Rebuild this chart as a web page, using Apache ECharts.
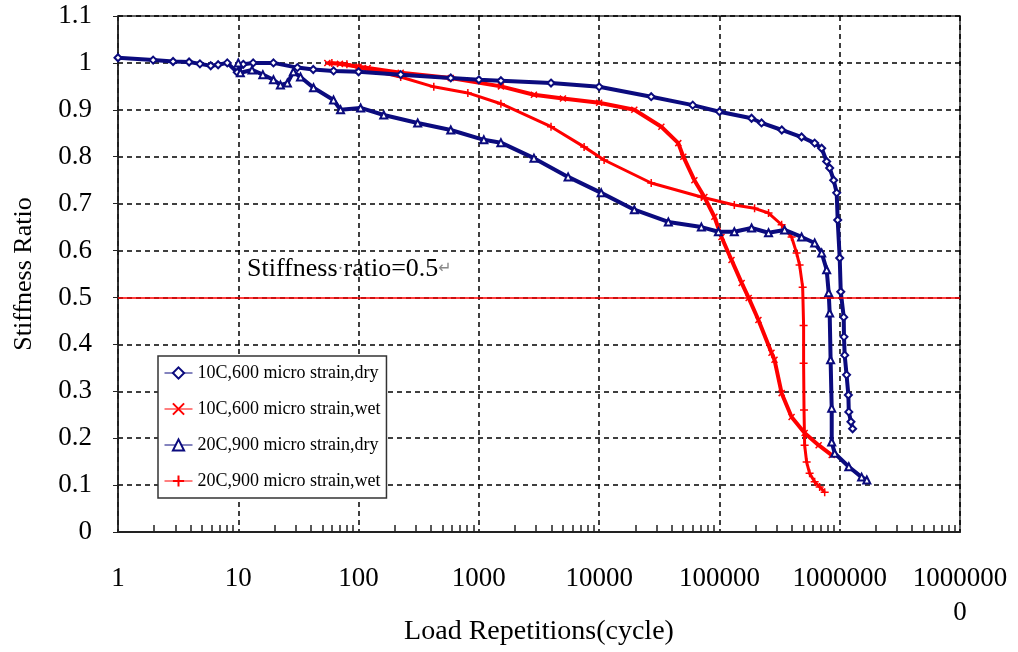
<!DOCTYPE html>
<html>
<head>
<meta charset="utf-8">
<script src="https://cdn.jsdelivr.net/npm/echarts@6/dist/echarts.min.js"></script>
<style>
    html, body { margin: 0; padding: 0; background: #fff; }
    #chart { width: 1018px; height: 652px; }
</style>
</head>
<body>
<div id="chart"></div>
<script>
    // series names as in the legend
    const seriesNames = [
        '10C,600 micro strain,dry',
        '10C,600 micro strain,wet',
        '20C,900 micro strain,dry',
        '20C,900 micro strain,wet'
    ];

    // [load repetitions, stiffness ratio]
    const s10Dry = [
        [1, 1.011], [1.96, 1.006], [2.87, 1.003], [3.9, 1.002], [4.8, 0.998], [5.9, 0.994], [6.8, 0.996],
        [8.1, 1.0], [9.8, 0.98], [11, 0.997], [13.3, 1.0], [19.6, 1.0], [31, 0.99], [42, 0.986], [62, 0.983],
        [100, 0.981], [224, 0.975], [584, 0.968], [1000, 0.964], [1525, 0.962], [3980, 0.957], [10000, 0.949],
        [27100, 0.928], [60000, 0.91], [100000, 0.896], [185000, 0.882], [224000, 0.872], [330000, 0.857],
        [482000, 0.842], [619000, 0.829], [708000, 0.818], [779000, 0.79], [825000, 0.776], [891000, 0.75],
        [944000, 0.723], [962000, 0.665], [1000000, 0.584], [1020000, 0.512], [1080000, 0.458],
        [1085000, 0.416], [1100000, 0.377], [1140000, 0.335], [1180000, 0.292], [1190000, 0.256],
        [1240000, 0.235], [1280000, 0.22]
    ];
    const s10Wet = [
        [55, 1.0], [70, 0.998], [100, 0.992], [119, 0.989], [224, 0.979], [584, 0.968], [1525, 0.95],
        [2870, 0.932], [5000, 0.924], [10000, 0.915], [19600, 0.9], [32900, 0.864], [45500, 0.829],
        [50100, 0.8], [61900, 0.75], [75000, 0.714], [90800, 0.672], [104000, 0.629], [126000, 0.58],
        [153000, 0.531], [175000, 0.499], [211000, 0.452], [271000, 0.382], [287000, 0.367], [329000, 0.296],
        [398000, 0.245], [511000, 0.211], [668000, 0.185], [858000, 0.164]
    ];
    const s20Dry = [
        [10, 1.0], [10.4, 0.979], [13, 0.985], [16, 0.975], [19.6, 0.964], [22.4, 0.953], [25.6, 0.957],
        [28.7, 0.981], [32.9, 0.97], [42.2, 0.947], [61.9, 0.921], [70.8, 0.9], [104, 0.904], [162, 0.889],
        [310, 0.872], [584, 0.857], [1100, 0.836], [1525, 0.83], [2870, 0.797], [5520, 0.757], [10400, 0.723],
        [19600, 0.687], [37600, 0.661], [70800, 0.65], [98100, 0.64], [133000, 0.64], [185000, 0.648],
        [256000, 0.638], [348000, 0.644], [482000, 0.629], [619000, 0.616], [708000, 0.595], [779000, 0.559],
        [810000, 0.51], [825000, 0.467], [840000, 0.367], [858000, 0.264], [858000, 0.192], [908000, 0.168],
        [1190000, 0.139], [1520000, 0.117], [1680000, 0.111]
    ];
    const s20Wet = [
        [60, 1.0], [80, 0.997], [100, 0.99], [224, 0.97], [422, 0.949], [810, 0.936], [1525, 0.913],
        [3980, 0.864], [7500, 0.821], [11000, 0.793], [27100, 0.744], [70800, 0.714], [133000, 0.697],
        [196000, 0.69], [256000, 0.68], [329000, 0.655], [398000, 0.629], [438000, 0.595], [464000, 0.569],
        [492000, 0.522], [501000, 0.44], [501000, 0.36], [505000, 0.26], [511000, 0.185], [531000, 0.149],
        [562000, 0.125], [619000, 0.107], [681000, 0.096], [750000, 0.085]
    ];

    const threshold = 0.5;
    const xTickLabels = ['1', '10', '100', '1000', '10000', '100000', '1000000', '1000000\n0'];
    const yTickLabels = ['0', '0.1', '0.2', '0.3', '0.4', '0.5', '0.6', '0.7', '0.8', '0.9', '1', '1.1'];

    // minor ticks 2..9 in each decade
    const minorTicks = [];
    for (let d = 0; d < 7; d++) {
        for (let k = 2; k <= 9; k++) {
            minorTicks.push(k * Math.pow(10, d));
        }
    }

    const serif = "'Liberation Serif', 'Times New Roman', serif";
    const navy = '#0b0b7e';
    const red = '#ff0000';
    const dash = { color: '#000', type: [5, 4], width: 1.5 };

    const chart = echarts.init(document.getElementById('chart'));
    chart.setOption({
        animation: false,
        grid: {
            left: 118,
            right: 58,
            top: 16,
            bottom: 120,
            outerBoundsMode: 'none',
            show: true,
            borderColor: '#333',
            borderWidth: 1.5
        },
        legend: {
            orient: 'vertical',
            left: 158,
            top: 356,
            padding: [8, 6, 8, 6],
            itemWidth: 28,
            itemHeight: 14,
            itemGap: 18,
            borderColor: '#333',
            borderWidth: 1.5,
            backgroundColor: '#fff',
            textStyle: { fontFamily: serif, fontSize: 18, color: '#000' },
            lineStyle: { width: 1 },
            data: seriesNames
        },
        xAxis: [{
            type: 'log',
            logBase: 10,
            min: 1,
            max: 1e7,
            position: 'bottom',
            axisLine: { lineStyle: { color: '#222', width: 2 } },
            axisTick: {
                show: true,
                inside: true,
                length: 7,
                customValues: minorTicks,
                lineStyle: { color: '#222', width: 1.5 }
            },
            axisLabel: {
                fontFamily: serif,
                fontSize: 27,
                color: '#000',
                margin: 30,
                lineHeight: 34,
                formatter: (v) => xTickLabels[Math.round(Math.log10(v))]
            },
            splitLine: { show: false },
            name: 'Load Repetitions(cycle)',
            nameLocation: 'middle',
            nameGap: 86,
            nameMoveOverlap: false,
            nameTextStyle: { fontFamily: serif, fontSize: 28, color: '#000' }
        }, {
            // decade grid lines only
            type: 'log',
            logBase: 10,
            min: 1,
            max: 1e7,
            position: 'top',
            axisLine: { show: false },
            axisTick: { show: false },
            axisLabel: { show: false },
            splitLine: { show: true, lineStyle: dash }
        }],
        yAxis: {
            type: 'value',
            min: 0,
            max: 1.1,
            interval: 0.1,
            axisLine: { show: true, lineStyle: { color: '#222', width: 1.5 } },
            axisTick: { show: true, length: 5, lineStyle: { color: '#222' } },
            axisLabel: {
                fontFamily: serif,
                fontSize: 27,
                color: '#000',
                margin: 26,
                formatter: (v) => yTickLabels[Math.round(v * 10)]
            },
            splitLine: { lineStyle: dash },
            name: 'Stiffness Ratio',
            nameLocation: 'middle',
            nameGap: 81,
            nameTextStyle: { fontFamily: serif, fontSize: 26, color: '#000' }
        },
        graphic: [{
            type: 'text',
            left: 247,
            top: 256,
            style: {
                text: 'Stiffness{d|·}ratio=0.5{r|↵}',
                font: "26px 'Liberation Serif', serif",
                fill: '#000',
                rich: {
                    d: { fill: '#777', font: "18px 'Liberation Serif', serif" },
                    r: { fill: '#888', font: "16px 'DejaVu Sans', sans-serif" }
                }
            }
        }],
        series: [{
            name: seriesNames[0],
            type: 'line',
            data: s10Dry,
            symbol: 'emptyDiamond',
            symbolSize: 7,
            showSymbol: true,
            color: navy,
            lineStyle: { width: 4, color: navy },
            itemStyle: { color: navy, borderWidth: 1.2 },
            z: 3
        }, {
            name: seriesNames[1],
            type: 'line',
            data: s10Wet,
            symbol: 'path://M0,0L10,10M10,0L0,10',
            symbolSize: 6,
            showSymbol: true,
            color: red,
            lineStyle: { width: 4, color: red },
            itemStyle: { color: red, borderColor: red, borderWidth: 1.5 },
            z: 2
        }, {
            name: seriesNames[2],
            type: 'line',
            data: s20Dry,
            symbol: 'emptyTriangle',
            symbolSize: 7,
            showSymbol: true,
            color: navy,
            lineStyle: { width: 4, color: navy },
            itemStyle: { color: navy, borderWidth: 1.2 },
            z: 3
        }, {
            name: seriesNames[3],
            type: 'line',
            data: s20Wet,
            symbol: 'path://M0,5L10,5M5,0L5,10',
            symbolSize: 8,
            showSymbol: true,
            color: red,
            lineStyle: { width: 3, color: red },
            itemStyle: { color: red, borderColor: red, borderWidth: 1.5 },
            z: 2,
            markLine: {
                silent: true,
                symbol: 'none',
                label: { show: false },
                lineStyle: { color: red, width: 1.5, type: 'solid' },
                data: [{ yAxis: threshold }]
            }
        }]
    });
    window.addEventListener('resize', () => {
        chart.resize();
    });
</script>
</body>
</html>
